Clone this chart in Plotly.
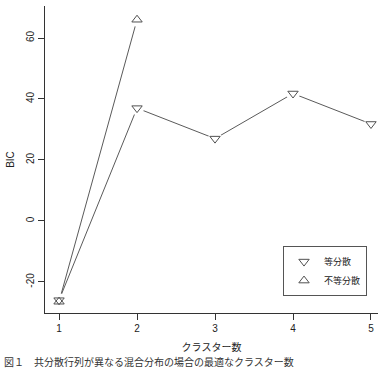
import plotly.graph_objects as go

clusters = [1, 2, 3, 4, 5]
equal_var = [-26.0, 37.0, 27.0, 41.8, 31.8]
clusters_uneq = [1, 2]
unequal_var = [-26.5, 66.0]
x_ticks = [1, 2, 3, 4, 5]
y_ticks = [-20, 0, 20, 40, 60]

W, H = 379, 371
L, R, T, B = 45, 1, 6, 58
LINE = "#5a5a5a"
MK = "#505050"
FONT = "Liberation Sans, Arial, Noto Sans CJK JP, sans-serif"
JP = "Noto Sans CJK JP, sans-serif"

fig = go.Figure()
fig.add_trace(go.Scatter(x=clusters, y=equal_var, mode="lines",
                         line=dict(color=LINE, width=1), showlegend=False, hoverinfo="skip"))
fig.add_trace(go.Scatter(x=clusters_uneq, y=unequal_var, mode="lines",
                         line=dict(color=LINE, width=1), showlegend=False, hoverinfo="skip"))
for xs, ys in [(clusters, equal_var), (clusters_uneq, unequal_var)]:
    fig.add_trace(go.Scatter(x=xs, y=ys, mode="markers",
                             marker=dict(symbol="circle", size=14, color="white",
                                         line=dict(width=0)),
                             showlegend=False, hoverinfo="skip"))
fig.add_trace(go.Scatter(x=clusters, y=equal_var, mode="markers", name="等分散",
                         marker=dict(symbol="triangle-down-open", size=9, color=MK,
                                     line=dict(width=1, color=MK))))
fig.add_trace(go.Scatter(x=clusters_uneq, y=unequal_var, mode="markers", name="不等分散",
                         marker=dict(symbol="triangle-up-open", size=9, color=MK,
                                     line=dict(width=1, color=MK))))

fig.update_layout(
    width=W, height=H,
    margin=dict(l=L, r=R, t=T, b=B, pad=0),
    paper_bgcolor="white", plot_bgcolor="white",
    font=dict(family=FONT, size=10, color="#222"),
    showlegend=True,
    legend=dict(x=0.967, y=0.218, xanchor="right", yanchor="top",
                bordercolor="#555", borderwidth=1, bgcolor="white",
                font=dict(size=9, family=JP),
                itemwidth=30, tracegroupgap=0),
    xaxis=dict(range=[0.82, 5.09], tickvals=x_ticks, ticktext=[str(v) for v in x_ticks],
               showline=True, linecolor="#333", linewidth=1, mirror=False,
               ticks="outside", ticklen=6, tickcolor="#333", showgrid=False, zeroline=False,
               tickfont=dict(size=10),
               title=dict(text="クラスター数", standoff=10,
                          font=dict(size=10, family=JP))),
    yaxis=dict(range=[-30.2, 70.5], tickvals=y_ticks, ticktext=[str(v) for v in y_ticks],
               tickangle=-90,
               showline=True, linecolor="#333", linewidth=1, mirror=False,
               ticks="outside", ticklen=6, tickcolor="#333", showgrid=False, zeroline=False,
               tickfont=dict(size=10),
               title=dict(text="BIC", standoff=8, font=dict(size=10))),
)

fig.add_annotation(text="図１　共分散行列が異なる混合分布の場合の最適なクラスター数",
                   xref="paper", yref="paper", x=-0.125, y=(313 - 353) / 307,
                   xanchor="left", yanchor="top", showarrow=False, borderpad=0,
                   font=dict(size=10, family=JP, color="#333"))

fig.write_html("out.html")
